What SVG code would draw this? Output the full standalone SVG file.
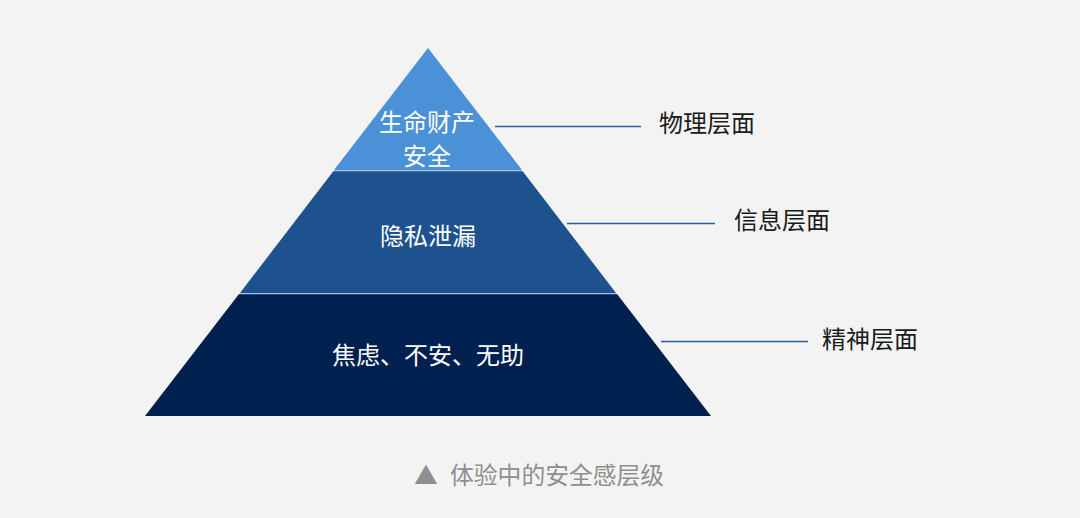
<svg xmlns="http://www.w3.org/2000/svg" width="1080" height="518" viewBox="0 0 1080 518">
<style>
.in{font-family:"Noto Sans CJK SC","Noto Sans",sans-serif;font-size:24px;fill:#ffffff;text-anchor:middle}
.lb{font-family:"Noto Sans CJK SC","Noto Sans",sans-serif;font-size:24px;fill:#1a1a1a}
.cap{font-family:"Noto Sans CJK SC","Noto Sans",sans-serif;font-size:23.8px;fill:#8f8f8f}
.sep{stroke:#a9c0de;stroke-width:1.2}
.con{stroke:#2f5e9c;stroke-width:1.6;fill:none}
</style>
<rect width="1080" height="518" fill="#f3f3f3"/>
<g id="layer-top">
<polygon points="428,48 334,170 522,170" fill="#4a91d7"/>
<text class="in" y="130.5"><tspan x="427">生命财产</tspan><tspan x="427" dy="34">安全</tspan></text>
</g>
<g id="layer-middle">
<polygon points="333.5,171 522.5,171 616,293 240,293" fill="#1e528f"/>
<text class="in" x="428" y="245">隐私泄漏</text>
</g>
<g id="layer-bottom">
<polygon points="239,294 617,294 711,416 145,416" fill="#00204f"/>
<text class="in" x="428" y="364">焦虑、不安、无助</text>
</g>
<g id="separators">
<line class="sep" x1="334" y1="170.6" x2="522" y2="170.6"/>
<line class="sep" x1="240" y1="293.6" x2="616" y2="293.6"/>
</g>
<g id="connectors">
<line class="con" x1="495" y1="126.5" x2="641" y2="126.5"/>
<line class="con" x1="567" y1="223.5" x2="715" y2="223.5"/>
<line class="con" x1="661" y1="341.5" x2="808" y2="341.5"/>
</g>
<g id="label-physical"><text class="lb" x="659" y="132">物理层面</text></g>
<g id="label-info"><text class="lb" x="734" y="229">信息层面</text></g>
<g id="label-spirit"><text class="lb" x="822" y="348">精神层面</text></g>
<g id="caption">
<text class="cap" y="484"><tspan x="414">▲</tspan><tspan x="450">体验中的安全感层级</tspan></text>
</g>
</svg>
